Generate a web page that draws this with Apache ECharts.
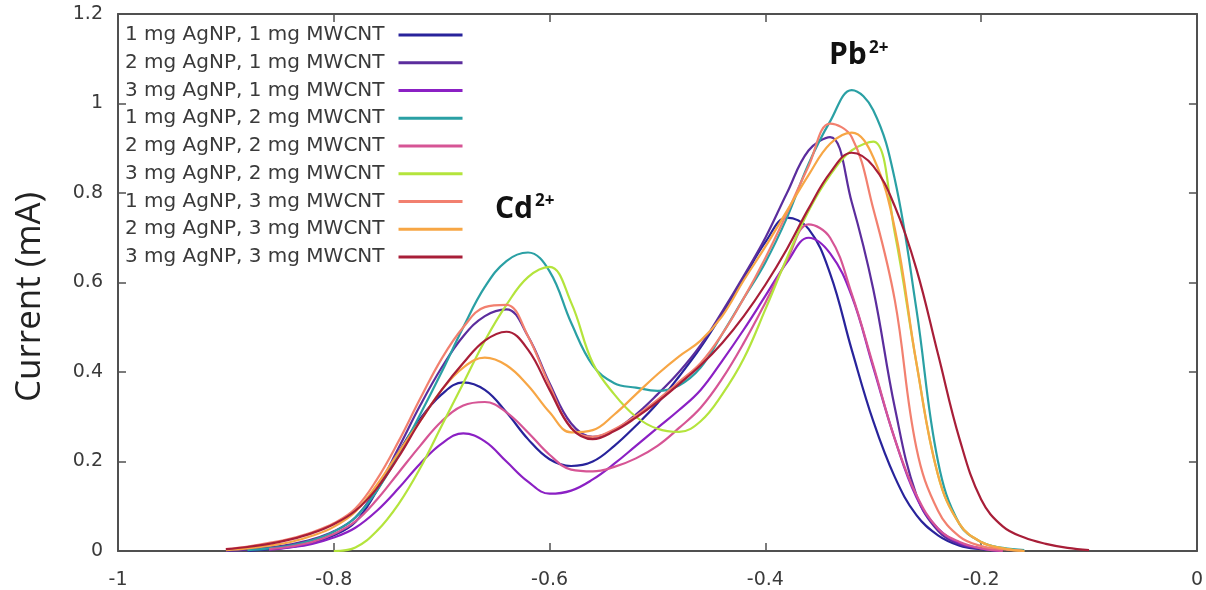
<!DOCTYPE html>
<html>
<head>
<meta charset="utf-8">
<script src="https://cdn.jsdelivr.net/npm/echarts@6/dist/echarts.min.js"></script>
<style>html,body{margin:0;padding:0;background:#fff;}#c{width:1206px;height:590px;}</style>
</head>
<body>
<div id="c"></div>
<script>
// Potential (V) sample points, shared by all series
const voltages = [-0.90,-0.88,-0.86,-0.84,-0.82,-0.80,-0.78,-0.76,-0.74,-0.72,-0.70,-0.68,-0.66,-0.64,-0.62,-0.60,-0.58,-0.56,-0.54,-0.52,-0.50,-0.48,-0.46,-0.44,-0.42,-0.40,-0.38,-0.36,-0.34,-0.32,-0.30,-0.28,-0.26,-0.24,-0.22,-0.20,-0.18,-0.16,-0.14,-0.12,-0.10];

const seriesNames = [
  '1 mg AgNP, 1 mg MWCNT','2 mg AgNP, 1 mg MWCNT','3 mg AgNP, 1 mg MWCNT',
  '1 mg AgNP, 2 mg MWCNT','2 mg AgNP, 2 mg MWCNT','3 mg AgNP, 2 mg MWCNT',
  '1 mg AgNP, 3 mg MWCNT','2 mg AgNP, 3 mg MWCNT','3 mg AgNP, 3 mg MWCNT'
];

// Current (mA) per series, aligned with voltages (null = no data)
const ag1cnt1 = [null,0.000,0.004,0.009,0.018,0.035,0.065,0.135,0.22,0.295,0.35,0.377,0.36,0.31,0.25,0.205,0.19,0.20,0.235,0.28,0.33,0.39,0.455,0.53,0.61,0.69,0.745,0.72,0.62,0.45,0.29,0.165,0.08,0.035,0.012,0.004,0.000,null,null,null,null];
const ag2cnt1 = [0.000,0.003,0.008,0.015,0.026,0.044,0.075,0.14,0.23,0.325,0.41,0.48,0.525,0.54,0.48,0.375,0.285,0.255,0.27,0.305,0.35,0.40,0.46,0.535,0.615,0.70,0.80,0.895,0.925,0.78,0.585,0.32,0.125,0.045,0.015,0.005,0.000,null,null,null,null];
const ag3cnt1 = [null,null,0.003,0.008,0.016,0.03,0.052,0.09,0.14,0.195,0.24,0.263,0.245,0.20,0.155,0.128,0.135,0.16,0.195,0.235,0.275,0.315,0.36,0.425,0.495,0.57,0.645,0.70,0.665,0.57,0.41,0.25,0.12,0.05,0.018,0.006,0.000,null,null,null,null];
const ag1cnt2 = [null,0.002,0.006,0.012,0.024,0.043,0.075,0.135,0.215,0.305,0.40,0.50,0.59,0.648,0.667,0.625,0.51,0.415,0.375,0.365,0.358,0.37,0.41,0.485,0.565,0.645,0.745,0.865,0.96,1.03,0.985,0.83,0.54,0.20,0.06,0.02,0.007,0.002,null,null,null];
const ag2cnt2 = [null,null,0.004,0.01,0.02,0.038,0.066,0.115,0.175,0.235,0.29,0.325,0.333,0.31,0.265,0.215,0.182,0.178,0.188,0.207,0.235,0.275,0.32,0.385,0.465,0.555,0.65,0.73,0.70,0.575,0.415,0.25,0.125,0.05,0.02,0.006,0.000,null,null,null,null];
const ag3cnt2 = [null,null,null,null,null,0.000,0.008,0.045,0.105,0.185,0.28,0.375,0.47,0.55,0.612,0.635,0.555,0.42,0.35,0.30,0.273,0.266,0.29,0.35,0.43,0.54,0.655,0.76,0.84,0.895,0.915,0.71,0.42,0.17,0.06,0.02,0.006,0.000,null,null,null];
const ag1cnt3 = [0.004,0.01,0.018,0.028,0.042,0.062,0.095,0.16,0.245,0.34,0.43,0.50,0.545,0.55,0.48,0.37,0.275,0.255,0.272,0.302,0.338,0.378,0.42,0.485,0.565,0.655,0.755,0.86,0.955,0.925,0.765,0.56,0.23,0.09,0.032,0.011,0.004,0.000,null,null,null];
const ag2cnt3 = [0.002,0.006,0.012,0.02,0.034,0.054,0.088,0.148,0.22,0.29,0.36,0.41,0.432,0.415,0.37,0.31,0.265,0.27,0.305,0.35,0.395,0.435,0.47,0.525,0.605,0.68,0.76,0.84,0.91,0.935,0.88,0.72,0.42,0.17,0.06,0.02,0.006,0.000,null,null,null];
const ag3cnt3 = [0.004,0.009,0.016,0.026,0.04,0.06,0.09,0.14,0.21,0.29,0.36,0.42,0.47,0.49,0.45,0.36,0.275,0.25,0.268,0.298,0.333,0.373,0.415,0.465,0.525,0.595,0.675,0.765,0.845,0.89,0.86,0.77,0.63,0.44,0.25,0.115,0.055,0.03,0.016,0.007,0.002];

const allValues = [ag1cnt1,ag2cnt1,ag3cnt1,ag1cnt2,ag2cnt2,ag3cnt2,ag1cnt3,ag2cnt3,ag3cnt3];
const colors = ['#28239b','#5b2d9d','#8b20c4','#2aa0a4','#d65595','#b4e43c','#f2806f','#f7a645','#a81e38'];

const xTicks = {min:-1, max:0, interval:0.2};
const yTicks = {min:0, max:1.2, interval:0.2};

const axisColor = '#505050';
const labelFont = {fontFamily:'DejaVu Sans', fontSize:19, color:'#3a3a3a'};

const chart = echarts.init(document.getElementById('c'), null, {renderer:'canvas'});

const series = allValues.map((vals, i) => ({
  name: seriesNames[i],
  type: 'line',
  xAxisIndex: 0,
  yAxisIndex: 0,
  smooth: 0.4,
  showSymbol: false,
  symbol: 'none',
  lineStyle: {color: colors[i], width: 2.2},
  itemStyle: {color: colors[i]},
  data: voltages.map((v, k) => [v, vals[k]]).filter(p => p[1] !== null),
  z: 3
}));

const baseAxis = {
  axisLine: {show:true, onZero:false, lineStyle:{color:axisColor, width:2}},
  axisTick: {show:true, inside:true, length:8, lineStyle:{color:axisColor, width:1.5}},
  splitLine: {show:false}
};

chart.setOption({
  animation: false,
  backgroundColor: '#fff',
  color: colors,
  grid: {left:118, right:6, top:14, bottom:38, containLabel:false},
  legend: {
    orient: 'vertical',
    left: 120,
    top: 20,
    align: 'right',
    icon: 'rect',
    itemWidth: 64,
    itemHeight: 3,
    itemGap: 7.75,
    textStyle: {fontFamily:'DejaVu Sans', fontSize:20, color:'#3a3a3a', lineHeight:20, padding:[0,9,0,0]},
    data: seriesNames
  },
  xAxis: [
    Object.assign({}, baseAxis, {type:'value', position:'bottom', min:xTicks.min, max:xTicks.max, interval:xTicks.interval,
      axisLabel: Object.assign({margin:20}, labelFont)}),
    Object.assign({}, baseAxis, {type:'value', position:'top', min:xTicks.min, max:xTicks.max, interval:xTicks.interval,
      axisLabel:{show:false}})
  ],
  yAxis: [
    Object.assign({}, baseAxis, {type:'value', position:'left', min:yTicks.min, max:yTicks.max, interval:yTicks.interval,
      axisLabel: Object.assign({margin:15}, labelFont)}),
    Object.assign({}, baseAxis, {type:'value', position:'right', min:yTicks.min, max:yTicks.max, interval:yTicks.interval,
      axisLabel:{show:false}})
  ],
  graphic: [
    {type:'text', x:30, y:297, rotation:Math.PI/2, z:10,
     style:{text:'Current (mA)', font:'35px "Open Sans"', fill:'#222', align:'center', verticalAlign:'middle'}},
    {type:'text', left:829, top:40, z:10, style:{text:'Pb', font:'bold 30px "Open Sans"', fill:'#111'}},
    {type:'text', left:869, top:40, z:10, style:{text:'2+', font:'bold 17px "Open Sans"', fill:'#111'}},
    {type:'text', left:495, top:194, z:10, style:{text:'Cd', font:'bold 30px "Open Sans"', fill:'#111'}},
    {type:'text', left:535, top:193, z:10, style:{text:'2+', font:'bold 17px "Open Sans"', fill:'#111'}}
  ],
  series: series
});
</script>
</body>
</html>
